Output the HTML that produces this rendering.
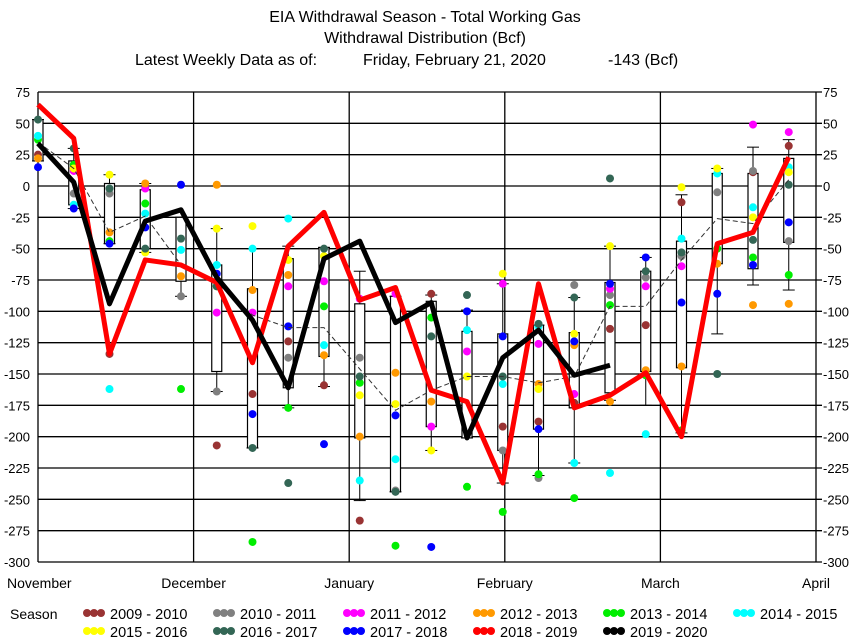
<!DOCTYPE html>
<html><head><meta charset="utf-8"><style>
html,body{margin:0;padding:0;background:#fff;}
svg{display:block;font-family:"Liberation Sans",Arial,sans-serif;}
</style></head><body>
<svg id="chart" width="850" height="640" viewBox="0 0 850 640" xmlns="http://www.w3.org/2000/svg">
<g font-size="16" fill="#000">
<text x="425" y="22" text-anchor="middle">EIA Withdrawal Season - Total Working Gas</text>
<text x="425" y="43" text-anchor="middle">Withdrawal Distribution (Bcf)</text>
<text x="135" y="65">Latest Weekly Data as of:</text>
<text x="363" y="65">Friday, February 21, 2020</text>
<text x="608" y="65">-143 (Bcf)</text>
</g>
<g id="grid"></g><g id="boxes"></g><g id="dots"></g><g id="lines"></g><g id="axes"></g><g id="legend"></g>
</svg>
<script>
const yTicks=[75,50,25,0,-25,-50,-75,-100,-125,-150,-175,-200,-225,-250,-275,-300];
const months=["November","December","January","February","March","April"];
const meanLine=[35,14,-37,-24,-63,-76,-103,-113,-113,-146,-179,-163,-152,-152,-157,-152,-96,-96,-59,-26,-30,5];
const s2018=[65,38,-134,-59,-63,-77,-141,-48,-21,-91,-81,-163,-172,-237,-78,-177,-167,-149,-200,-46,-37,23];
const s2019=[34,3,-94,-28,-19,-73,-107,-161,-58,-44,-109,-93,-201,-137,-115,-151,-143];
const boxTop=[53,20,2,-3,-25,-63,-82,-58,-49,-94,-88,-92,-116,-118,-111,-117,-77,-68,-44,10,10,22];
const boxBot=[20,-15,-46,-50,-76,-148,-209,-161,-136,-201,-244,-192,-201,-211,-194,-177,-165,-148,-145,-62,-66,-45];
const whiskTop=[53,30,9,2,-25,-34,-50,-48,-49,-68,-88,-87,-99,-78,-111,-89,-48,-57,-7,14,31,37];
const whiskBot=[20,-18,-46,-53,-88,-164,-209,-177,-160,-251,-244,-211,-201,-237,-231,-221,-171,-175,-197,-118,-79,-83];
const d0910=[25,null,-134,null,null,-207,-166,-124,-159,-267,null,-86,null,-192,-188,-173,-114,-111,-13,null,11,32];
const d1011=[null,-6,-6,null,-88,-164,null,-137,null,-137,-243,null,null,-211,-233,-79,-87,-73,-56,-5,12,-44];
const d1112=[null,12,null,-2,null,-101,-101,-80,-76,-90,-86,-192,-132,-78,-126,-166,-82,-80,-64,null,49,43];
const d1213=[22,14,-37,2,-72,1,-83,-71,-135,-200,-149,-172,null,null,-158,-127,-172,-147,-144,-62,-95,-94];
const d1314=[37,17,-44,-14,-162,-80,-284,-177,-96,-157,-287,-105,-240,-260,-230,-249,-95,-151,-195,-50,-57,-71];
const d1415=[40,-15,-162,-22,-51,-63,-50,-26,-127,-235,-218,null,-115,-158,-112,-221,-229,-198,-42,10,-17,15];
const d1516=[null,14,9,-53,null,-34,-32,-59,-56,-167,-174,-211,-152,-70,-162,-118,-48,null,-1,14,-25,11];
const d1617=[53,30,-2,-50,-42,-80,-209,-237,-50,-152,-244,-120,-87,-152,-110,-89,6,-68,-53,-150,-43,1];
const d1718=[15,-18,-46,-33,1,-70,-182,-112,-206,null,-183,-288,-100,-120,-194,-124,-78,-57,-93,-86,-63,-29];
const seasonNames=["2009 - 2010","2010 - 2011","2011 - 2012","2012 - 2013","2013 - 2014","2014 - 2015","2015 - 2016","2016 - 2017","2017 - 2018","2018 - 2019","2019 - 2020"];
const seasonColors=["#993333","#808080","#ff00ff","#ff9900","#00ee00","#00ffff","#ffff00","#336655","#0000ff","#ff0000","#000000"];
const NS="http://www.w3.org/2000/svg";
const X0=38,X1=816,Y0=92,Y1=562;
const wx=i=>X0+i*35.75;
const vy=v=>Y0+(75-v)*(Y1-Y0)/375;
function mk(tag,attrs,parent){const e=document.createElementNS(NS,tag);for(const k in attrs)e.setAttribute(k,attrs[k]);parent.appendChild(e);return e;}
const G=id=>document.getElementById(id);
yTicks.forEach(t=>{const l=mk('line',{x1:X0,x2:X1+6,y1:vy(t),y2:vy(t),stroke:'#000','stroke-width':1.3},G('grid'));


const a=mk('text',{x:30,y:vy(t)+5,'text-anchor':'end','font-size':13},G('axes'));a.textContent=t;


const b=mk('text',{x:X1+7,y:vy(t)+5,'text-anchor':'start','font-size':13},G('axes'));b.textContent=t;

});
months.forEach((m,i)=>{const x=X0+i*155.6;
const l=mk('line',{x1:x,x2:x,y1:Y0,y2:Y1,stroke:'#000','stroke-width':1.3},G('grid'));


const t=mk('text',{x:i==0?7:x,y:588,'text-anchor':i==0?'start':'middle','font-size':14},G('axes'));t.textContent=m;

});
boxTop.forEach((bt,i)=>{const x=wx(i);
const w=mk('line',{x1:x,x2:x,y1:vy(whiskTop[i]),y2:vy(whiskBot[i]),stroke:'#000','stroke-width':1},G('boxes'));


[whiskTop[i],whiskBot[i]].forEach(v=>{const c=mk('line',{x1:x-6,x2:x+6,y1:vy(v),y2:vy(v),stroke:'#000','stroke-width':1},G('boxes'));

});
const r=mk('rect',{x:x-5,y:vy(bt),width:10,height:vy(boxBot[i])-vy(bt),fill:'#fff',stroke:'#000','stroke-width':1.2},G('boxes'));

});
[d0910,d1011,d1112,d1213,d1314,d1415,d1516,d1617,d1718].forEach((arr,si)=>{arr.forEach((v,i)=>{if(v===null)return;
const c=mk('circle',{cx:wx(i),cy:vy(v),r:4,fill:seasonColors[si]},G('dots'));

});});
function poly(arr,attrs,name){const p=mk('polyline',Object.assign({points:arr.map((v,i)=>wx(i)+','+vy(v)).join(' '),fill:'none'},attrs),G('lines'));

}
poly(meanLine,{stroke:'#333','stroke-width':1,'stroke-dasharray':'5,3'},'average-line');
poly(s2018,{stroke:'#ff0000','stroke-width':5,'stroke-linejoin':'round'},'line-2018-2019');
poly(s2019,{stroke:'#000','stroke-width':5,'stroke-linejoin':'round'},'line-2019-2020');
const lt=mk('text',{x:10,y:619,'font-size':14},G('legend'));lt.textContent='Season';


const colX=[83,213,343,473,603,733];
seasonNames.forEach((n,i)=>{const row=i<6?0:1,col=i<6?i:i-6;const x=colX[col],y=row?631:613;
const g=mk('g',{},G('legend'));


[0,7,14].forEach(d=>mk('circle',{cx:x+4+d,cy:y,r:4,fill:seasonColors[i]},g));
const t=mk('text',{x:x+27,y:y+6,'font-size':14.5},g);t.textContent=n;});
</script>
</body></html>
